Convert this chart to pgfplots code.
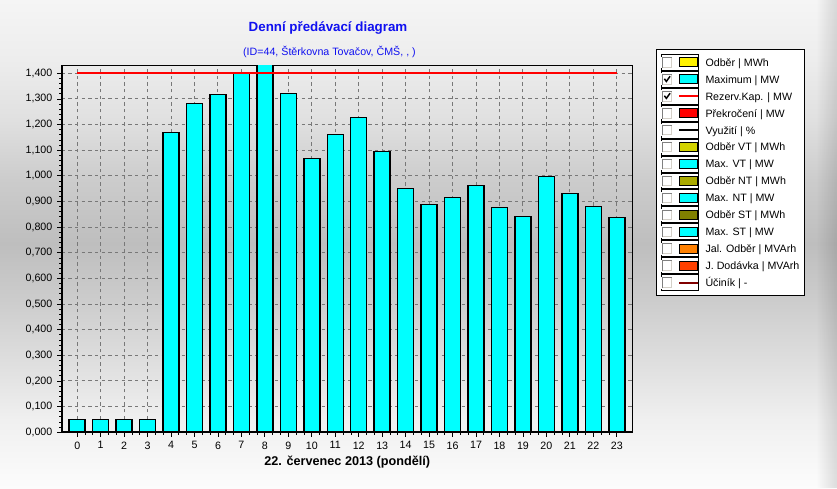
\documentclass[border=0pt]{standalone}
\usepackage{fontspec}
\setmainfont{Liberation Sans}
\usepackage{pgfplots}
\pgfplotsset{compat=1.18}
\usetikzlibrary{fadings}

\definecolor{cyanbar}{RGB}{0,255,255}
\definecolor{titleblue}{RGB}{16,16,240}
\definecolor{gridgray}{RGB}{120,120,120}
\definecolor{odberVT}{RGB}{212,212,0}
\definecolor{odberNT}{RGB}{170,170,0}
\definecolor{odberST}{RGB}{128,128,0}
\definecolor{jal}{RGB}{255,128,0}
\definecolor{jdod}{RGB}{255,64,0}
\definecolor{ucinik}{RGB}{128,0,0}
\definecolor{cbdark}{RGB}{128,128,128}
\definecolor{cblight}{RGB}{212,208,200}
\definecolor{c0}{RGB}{252,252,252}
\definecolor{c1}{RGB}{240,240,240}
\definecolor{c2}{RGB}{222,222,222}
\definecolor{c3}{RGB}{204,204,204}
\definecolor{c4}{RGB}{190,190,190}
\definecolor{c5}{RGB}{204,204,204}
\definecolor{c6}{RGB}{224,224,224}
\definecolor{c7}{RGB}{237,237,237}
\definecolor{c8}{RGB}{245,245,245}

% bottom (25bp) -> top (75bp)
\pgfdeclareverticalshading{bgshade}{100bp}{%
  color(0bp)=(c0); color(25bp)=(c0); color(31.9bp)=(c1); color(38.1bp)=(c2);
  color(44.3bp)=(c3); color(50bp)=(c4); color(56.6bp)=(c5); color(62.7bp)=(c6);
  color(68.9bp)=(c7); color(75bp)=(c8); color(100bp)=(c8)}

\tikzfading[name=fadeR, left color=transparent!100, right color=transparent!0]

\newcommand{\lbox}{\path (0pt,-5.98pt) rectangle (27.5pt,5.98pt);}
\newcommand{\cbox}{%
  \fill[white] (0pt,-4pt) rectangle (8pt,4pt);
  \draw[line width=0.75pt, cbdark] (0.375pt,-4pt) -- (0.375pt,3.625pt) -- (8pt,3.625pt);
  \draw[line width=0.75pt, cblight] (7.625pt,3.25pt) -- (7.625pt,-3.625pt) -- (0.75pt,-3.625pt);}
\newcommand{\ckmark}{\draw[line width=1.1pt, black] (2pt,0.4pt) -- (3.5pt,-1.6pt) -- (6.3pt,2.3pt);}
\newcommand{\swatch}[1]{\filldraw[fill=#1, draw=black, line width=0.75pt] (13pt,-3.4pt) rectangle (27.1pt,3.4pt);}
\newcommand{\lline}[1]{\draw[#1, line width=1.5pt] (13pt,0pt) -- (27.1pt,0pt);}

\begin{document}
\begin{tikzpicture}
\shade[shading=bgshade] (0pt,0pt) rectangle (627.75pt,366pt);
\fill[black, opacity=0.12, path fading=fadeR] (612pt,0pt) rectangle (627.75pt,366pt);

\begin{axis}[
  at={(46.3pt,41.8pt)}, anchor=south west,
  scale only axis, width=428.25pt, height=275.25pt,
  xmin=-0.66, xmax=23.68, ymin=0, ymax=1.4314,
  axis line style={black, line width=0.75pt},
  xtick={0,...,23},
  ytick={0,0.1,0.2,0.3,0.4,0.5,0.6,0.7,0.8,0.9,1.0,1.1,1.2,1.3,1.4},
  minor x tick num=2, minor y tick num=4,
  tick align=outside, tick pos=left,
  major tick length=3.5pt, minor tick length=2pt,
  every tick/.style={black, line width=0.6pt},
  grid=major,
  major grid style={dash pattern=on 2.5pt off 2.5pt, gridgray, line width=0.75pt},
  tick label style={font=\fontsize{8}{9.6}\selectfont},
  /pgf/number format/assume math mode=true,
  yticklabel style={/pgf/number format/.cd, fixed, fixed zerofill, precision=3, use comma},
  xlabel={22. červenec 2013 (pondělí)},
  xlabel style={font=\fontsize{9.5}{11}\selectfont\bfseries, at={(axis description cs:0.5,0)}, anchor=center, yshift=-22.3pt},
  legend cell align=left,
  legend style={at={(1.0408,1.0436)}, anchor=north west, draw=black, line width=0.75pt, fill=white,
    inner xsep=3.5pt, inner ysep=3.1pt, row sep=0pt, column sep=5pt,
    font=\fontsize{8}{9.6}\selectfont,
    nodes={inner sep=0pt, text height=5.8pt, text depth=0pt}},
  after end axis/.code={\draw[black, line width=1.5pt] (rel axis cs:0,1) -- (rel axis cs:0,0) -- (rel axis cs:1,0);},
]
\addplot[ybar, bar width=12pt, fill=cyanbar, draw=black, line width=1.1pt, forget plot] coordinates {
 (0,0.050) (1,0.050) (2,0.050) (3,0.050) (4,1.170) (5,1.283) (6,1.318) (7,1.400)
 (8,1.440) (9,1.321) (10,1.067) (11,1.162) (12,1.227) (13,1.096) (14,0.950) (15,0.888)
 (16,0.915) (17,0.962) (18,0.876) (19,0.841) (20,0.997) (21,0.931) (22,0.880) (23,0.837)};
\addplot[red, line width=1.6pt, forget plot] coordinates {
 (0,1.4) (1,1.4) (2,1.4) (3,1.4) (4,1.4) (5,1.4) (6,1.4) (7,1.4) (8,1.4) (9,1.4) (10,1.4) (11,1.4)
 (12,1.4) (13,1.4) (14,1.4) (15,1.4) (16,1.4) (17,1.4) (18,1.4) (19,1.4) (20,1.4) (21,1.4) (22,1.4) (23,1.4)};

\addlegendimage{legend image code/.code={\lbox\cbox\swatch{yellow}}}
\addlegendentry{Odběr | MWh}
\addlegendimage{legend image code/.code={\lbox\cbox\ckmark\swatch{cyanbar}}}
\addlegendentry{Maximum | MW}
\addlegendimage{legend image code/.code={\lbox\cbox\ckmark\lline{red}}}
\addlegendentry{Rezerv.Kap. | MW}
\addlegendimage{legend image code/.code={\lbox\cbox\swatch{red}}}
\addlegendentry{Překročení | MW}
\addlegendimage{legend image code/.code={\lbox\cbox\lline{black}}}
\addlegendentry{Využití | \%}
\addlegendimage{legend image code/.code={\lbox\cbox\swatch{odberVT}}}
\addlegendentry{Odběr VT | MWh}
\addlegendimage{legend image code/.code={\lbox\cbox\swatch{cyanbar}}}
\addlegendentry{Max. VT | MW}
\addlegendimage{legend image code/.code={\lbox\cbox\swatch{odberNT}}}
\addlegendentry{Odběr NT | MWh}
\addlegendimage{legend image code/.code={\lbox\cbox\swatch{cyanbar}}}
\addlegendentry{Max. NT | MW}
\addlegendimage{legend image code/.code={\lbox\cbox\swatch{odberST}}}
\addlegendentry{Odběr ST | MWh}
\addlegendimage{legend image code/.code={\lbox\cbox\swatch{cyanbar}}}
\addlegendentry{Max. ST | MW}
\addlegendimage{legend image code/.code={\lbox\cbox\swatch{jal}}}
\addlegendentry{Jal. Odběr | MVArh}
\addlegendimage{legend image code/.code={\lbox\cbox\swatch{jdod}}}
\addlegendentry{J. Dodávka | MVArh}
\addlegendimage{legend image code/.code={\lbox\cbox\lline{ucinik}}}
\addlegendentry{Účiník | -}
\end{axis}

\node[font=\fontsize{10}{12}\selectfont\bfseries, text=titleblue] at (246pt,344.8pt) {Denní předávací diagram};
\node[font=\fontsize{8}{9.6}\selectfont, text=titleblue] at (247.1pt,327.2pt) {(ID=44, Štěrkovna Tovačov, ČMŠ, , )};
\end{tikzpicture}
\end{document}
